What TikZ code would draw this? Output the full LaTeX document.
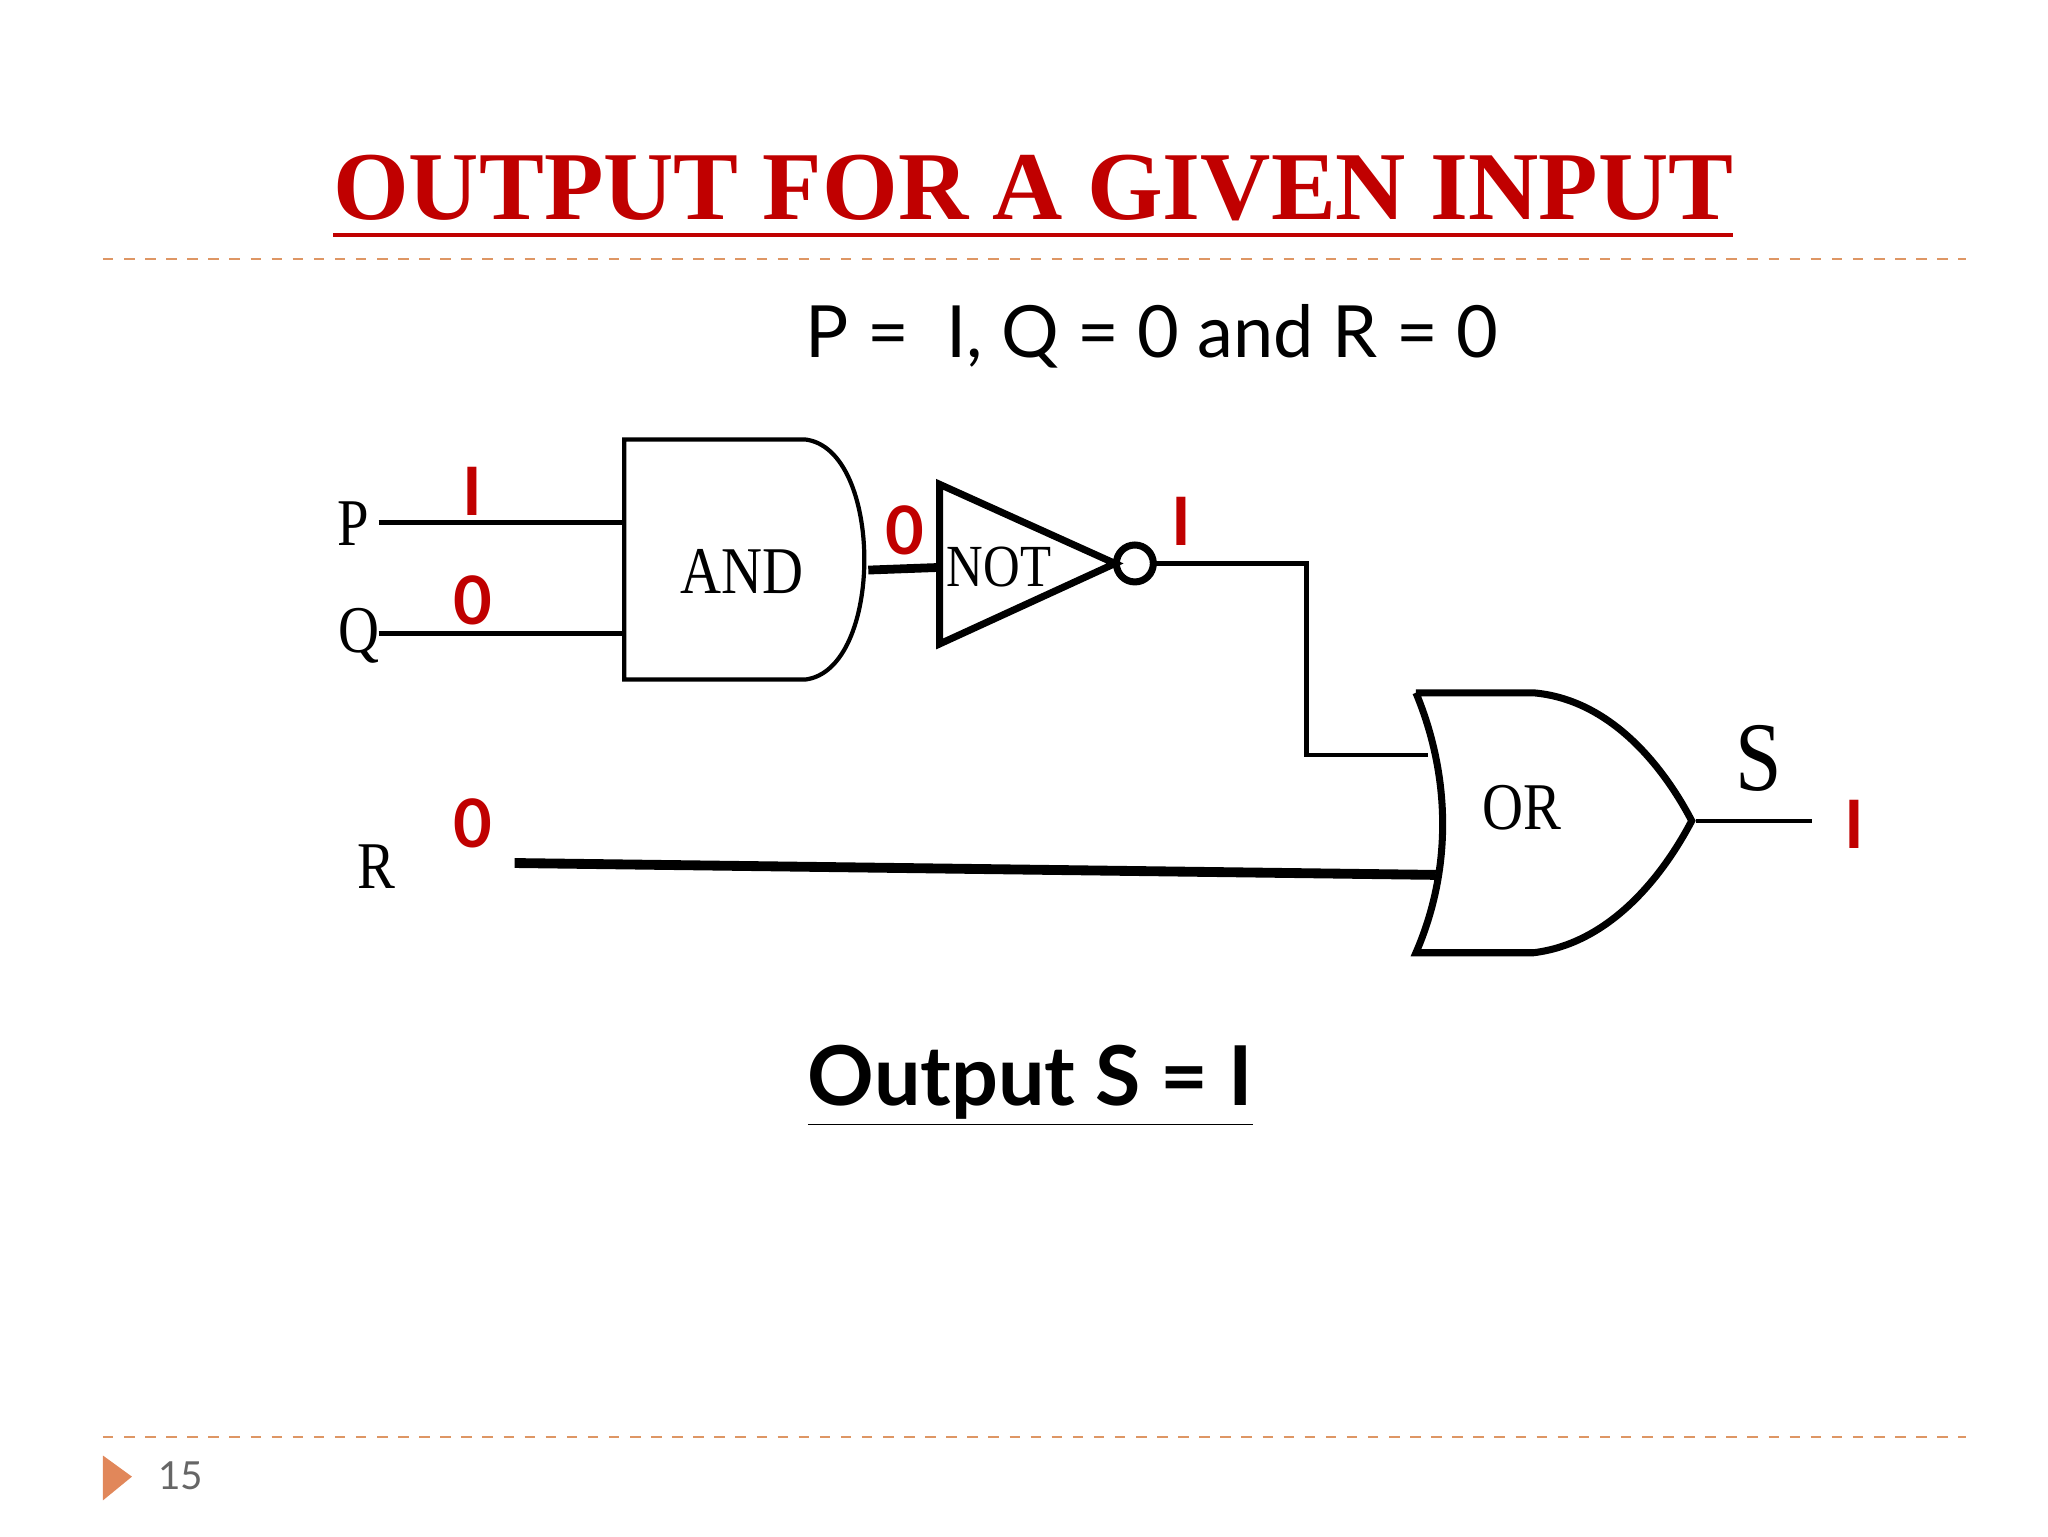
\documentclass[tikz,border=0pt]{standalone}
\usepackage{fontspec}
\setmainfont{Liberation Serif}
\newfontfamily\sansf{Lato}
\definecolor{tred}{RGB}{192,0,0}
\definecolor{dor}{RGB}{222,150,100}
\begin{document}
\begin{tikzpicture}[x=0.013196cm,y=-0.013196cm,
  gl/.style={font=\fontsize{19}{19}\selectfont,xscale=0.85},
  rl/.style={text=tred,font=\sansf\bfseries\fontsize{19}{19}\selectfont},
  w/.style={line width=1.2pt}]
\useasboundingbox (0,0) rectangle (1552,1164);
\node (title) at (783,150) {\resizebox{14cm}{!}{\bfseries\color{tred}\underline{OUTPUT FOR A GIVEN INPUT}}};
\draw[dor,dashed,line width=0.6pt] (78,196) -- (1490,196);
\draw[dor,dashed,line width=0.6pt] (78,1089) -- (1490,1089);
\node (given) at (873,255) {\sansf\fontsize{20.5}{20.5}\selectfont P =\ \ I, Q = 0 and R = 0};
% AND
\draw[w] (473,333) -- (610,333) .. controls (670,340) and (670,508) .. (610,515) -- (473,515) -- cycle;
\node[gl] (and) at (562,433) {AND};
\node[gl] (p) at (268,397) {P};
\node[gl] (q) at (272,482) {Q};
\draw[w] (287,396) -- (473,396);
\draw[w] (287,480) -- (473,480);
\node[rl] at (358,372) {I};
\node[rl] at (358,455) {0};
% NOT
\draw[line width=2pt] (712,367) -- (845,427) -- (712,488) -- cycle;
\draw[line width=2pt] (860,427) circle [radius=14];
\draw[line width=2.5pt] (658,432) -- (712,430);
\node[gl,font=\fontsize{17}{17}\selectfont] (not) at (757,430) {NOT};
\node[rl] at (686,402) {0};
\node[rl] at (895,395) {I};
\draw[w] (874,427) -- (990,427) -- (990,572) -- (1082,572);
% OR
\draw[line width=2pt] (1073,525) -- (1162,525) .. controls (1220,530) and (1260,580) .. (1282,622)
  .. controls (1260,664) and (1220,715) .. (1162,722) -- (1073,722)
  .. controls (1100,660) and (1100,590) .. (1073,525);
\node[gl] (or) at (1153,612) {OR};
\node[gl,font=\fontsize{28}{28}\selectfont] (s) at (1333,575) {S};
\draw[w] (1285,622) -- (1373,622);
\node[rl] at (1405,625) {I};
\node[gl] (r) at (285,657) {R};
\node[rl] at (358,624) {0};
\draw[line width=2.8pt] (390,654) -- (1088,663);
\node (out) at (781,823) {\sansf\bfseries\fontsize{23.5}{23.5}\selectfont\underline{Output S = I}};
\fill[dor!90!red] (78,1103) -- (100,1119) -- (78,1137) -- cycle;
\node[text=gray!80!black] at (137,1118) {\sansf\fontsize{11}{11}\selectfont 15};
\end{tikzpicture}
\end{document}
